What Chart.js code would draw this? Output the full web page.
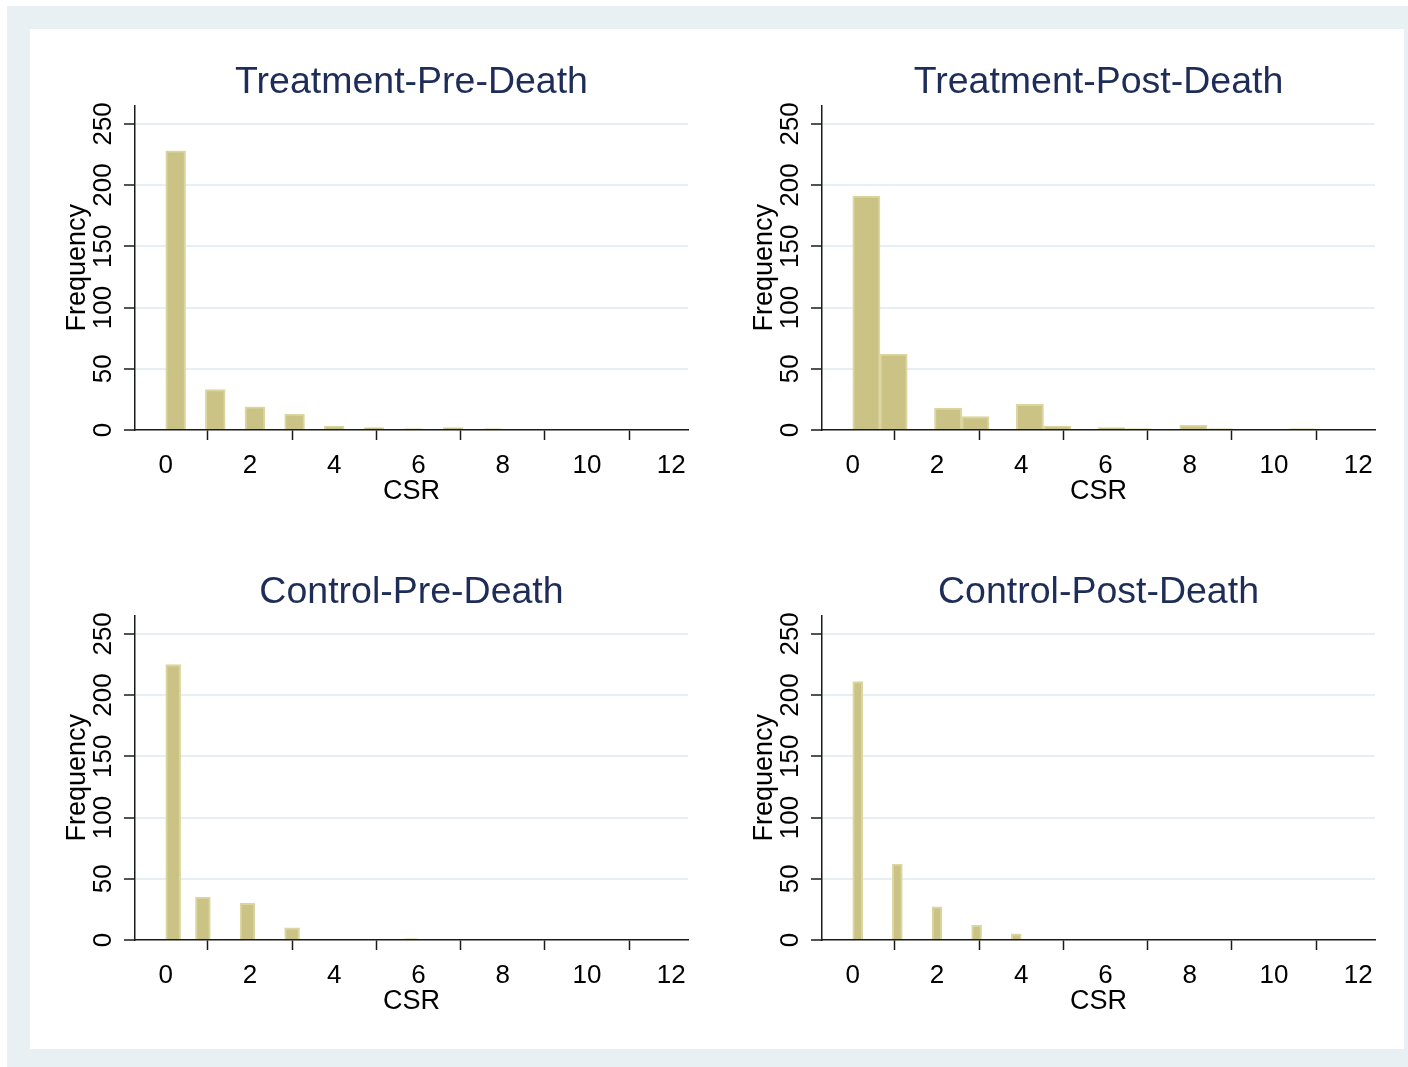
<!DOCTYPE html>
<html>
<head>
<meta charset="utf-8">
<title>CSR histograms</title>
<script src="https://cdn.jsdelivr.net/npm/chart.js"></script>
<style>
    body {
        margin: 0;
        width: 1408px;
        height: 1067px;
        overflow: hidden;
        background: #ffffff;
        font-family: "Liberation Sans", Arial, sans-serif;
    }
    .marco {
        position: absolute;
        left: 7px;
        top: 6px;
        right: 0;
        bottom: 0;
        background: #e8f0f3;
    }
    .interior {
        position: absolute;
        left: 30px;
        top: 29px;
        width: 1374px;
        height: 1020px;
        background: #ffffff;
    }
    .interior canvas {
        position: absolute;
    }
</style>
</head>
<body>
<div class="marco"></div>
<div class="interior">
    <canvas id="tratPre" width="687" height="510" style="left:0;top:0"></canvas>
    <canvas id="tratPost" width="687" height="510" style="left:687px;top:0"></canvas>
    <canvas id="ctrlPre" width="687" height="510" style="left:0;top:510px"></canvas>
    <canvas id="ctrlPost" width="687" height="510" style="left:687px;top:510px"></canvas>
</div>

<script>
// histogram data (17 bins from 0 to the max CSR of each group)
const binCount = 17;
const titles = ['Treatment-Pre-Death', 'Treatment-Post-Death', 'Control-Pre-Death', 'Control-Post-Death'];
const csrMax = [8, 11, 6, 4];

const treatPreFreq  = [228, 0, 33, 0, 19, 0, 13, 0, 3, 0, 2, 0, 1, 0, 2, 0, 1];
const treatPostFreq = [191, 62, 0, 18, 11, 0, 21, 3, 0, 2, 1, 0, 4, 1, 0, 0, 1];
const ctrlPreFreq   = [225, 0, 35, 0, 0, 30, 0, 0, 10, 0, 0, 0, 0, 0, 0, 0, 1];
const ctrlPostFreq  = [211, 0, 0, 0, 62, 0, 0, 0, 27, 0, 0, 0, 12, 0, 0, 0, 5];

const xTicks = [0, 2, 4, 6, 8, 10, 12];
const yTicks = [0, 50, 100, 150, 200, 250];

const barFill = '#cbc385';
const barLine = '#dbd6a0';
const gridColor = '#e6eff2';
const axisColor = '#1a1a1a';
const titleColor = '#1d2d58';

function histogram(canvasId, title, maxValue, freq) {
    const width = maxValue / binCount;
    const points = freq.map((f, i) => ({ x: (i + 0.5) * width, y: f }));

    new Chart(document.getElementById(canvasId), {
        type: 'bar',
        data: {
            datasets: [{
                data: points,
                backgroundColor: barFill,
                borderColor: barLine,
                borderWidth: 2,
                categoryPercentage: 1,
                barPercentage: 1
            }]
        },
        options: {
            responsive: false,
            animation: false,
            layout: { padding: { left: 0, right: 29, top: 0, bottom: 0 } },
            plugins: {
                legend: { display: false },
                tooltip: { enabled: false },
                title: {
                    display: true,
                    text: title,
                    fullSize: false,
                    color: titleColor,
                    font: { size: 37.5, family: 'Liberation Sans', weight: 'normal' },
                    padding: { top: 31.5, bottom: 0 }
                }
            },
            scales: {
                x: {
                    type: 'linear',
                    min: -0.73,
                    max: 12.4,
                    offset: false,
                    afterBuildTicks: s => { s.ticks = xTicks.map(v => ({ value: v })); },
                    afterFit: s => { s.height = 109; },
                    grid: { drawOnChartArea: false, drawTicks: true, tickLength: 10, tickColor: axisColor, tickWidth: 1.5 },
                    border: { display: true, color: axisColor, width: 1.5 },
                    ticks: { autoSkip: false, maxRotation: 0, color: '#000', padding: 10, font: { size: 26, family: 'Liberation Sans' } },
                    title: {
                        display: true,
                        text: 'CSR',
                        color: '#000',
                        font: { size: 27, family: 'Liberation Sans' },
                        padding: { top: 0, bottom: 31 }
                    }
                },
                y: {
                    min: 0,
                    max: 265,
                    afterBuildTicks: s => { s.ticks = yTicks.map(v => ({ value: v })); },
                    afterFit: s => { s.width = 105; },
                    grid: {
                        color: c => c.tick && c.tick.value === 0 ? 'rgba(0,0,0,0)' : gridColor,
                        lineWidth: 2,
                        drawTicks: true,
                        tickLength: 11,
                        tickColor: axisColor,
                        tickWidth: 1.5
                    },
                    border: { display: true, color: axisColor, width: 1.5 },
                    ticks: {
                        minRotation: 90,
                        maxRotation: 90,
                        crossAlign: 'center',
                        padding: -2,
                        color: '#000',
                        font: { size: 26, family: 'Liberation Sans' }
                    },
                    title: {
                        display: true,
                        text: 'Frequency',
                        color: '#000',
                        font: { size: 27, family: 'Liberation Sans' },
                        padding: { top: 31.5, bottom: 0 }
                    }
                }
            }
        }
    });
}

histogram('tratPre', titles[0], csrMax[0], treatPreFreq);
histogram('tratPost', titles[1], csrMax[1], treatPostFreq);
histogram('ctrlPre', titles[2], csrMax[2], ctrlPreFreq);
histogram('ctrlPost', titles[3], csrMax[3], ctrlPostFreq);
</script>
</body>
</html>
